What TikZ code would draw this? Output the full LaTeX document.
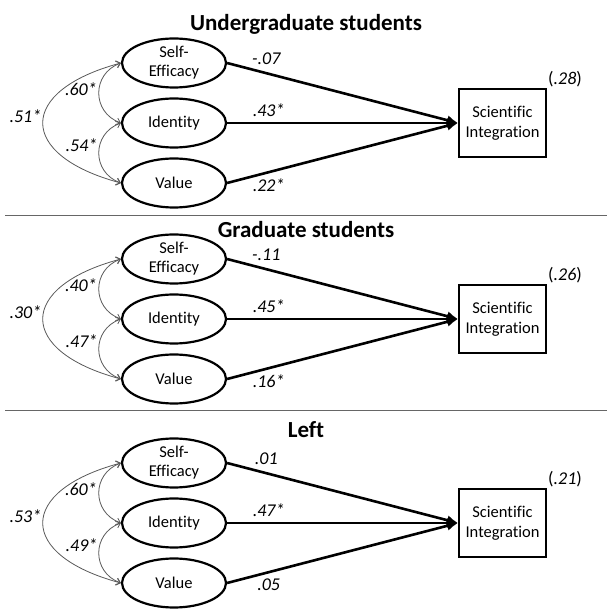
\documentclass[tikz,border=0pt]{standalone}
\usepackage{fontspec}
\setmainfont[Ligatures=NoCommon]{Carlito}
\usetikzlibrary{shapes.geometric}
\usetikzlibrary{positioning}
\usetikzlibrary{arrows.meta}
\tikzset{sem_model/.style={x=1pt,y=1pt,>={Straight Barb[length=4pt,width=7pt]}}}
\tikzset{sem_latent/.style={ellipse, draw, line width=2.2pt, minimum width=104pt, minimum height=49pt, inner sep=0pt, align=center, font=\fontsize{16.5}{19}\selectfont}}
\tikzset{sem_observed/.style={rectangle, draw, line width=2pt, minimum width=87pt, minimum height=68pt, align=center, font=\fontsize{16.5}{20.5}\selectfont}}
\tikzset{sem_path/.style={-{Latex[length=11pt,width=10pt]}, line width=2.6pt}}
\tikzset{sem_corr/.style={<->, draw=black!65, line width=0.8pt}}
\tikzset{sem_coef/.style={font=\fontsize{18}{21}\selectfont\itshape, inner sep=1pt}}
\tikzset{sem_rsq/.style={font=\fontsize{18}{21}\selectfont, inner sep=1pt, anchor=south west}}
\tikzset{sem_title/.style={font=\fontsize{23}{27}\selectfont\bfseries, inner sep=1pt}}
\tikzset{sem_rule/.style={draw=black!60, line width=1.3pt}}

\begin{document}
\begin{tikzpicture}[sem_model]
    \useasboundingbox (0,0) rectangle (614,611);
    %\draw[help lines, step=50] (0,0) grid (614,611);
    \foreach \i/\y/\ty/\ttl/\ra/\rb/\rc/\ba/\bb/\bc/\rsq in {
        1/488/587/Undergraduate students/.60*/.54*/.51*/-.07/.43*/.22*/.28,
        2/292/381/Graduate students/.40*/.47*/.30*/-.11/.45*/.16*/.26,
        3/88/181/Left/.60*/.49*/.53*/.01/.47*/.05/.21}
    {
        \node[sem_title] (title\i) at (306,\ty) {\ttl};
        \node[sem_latent] (se\i) at (174,\y+60) {Self-\\Efficacy};
        \node[sem_latent] (id\i) at (174,\y) {Identity};
        \node[sem_latent] (va\i) at (174,\y-60) {Value};
        \node[sem_observed] (si\i) at (502.5,\y) {Scientific\\Integration};
        \node[sem_rsq] (rsq\i) at (si\i.north east) {(\textit{\rsq})};

        \path
            (se\i.east) edge [sem_path] node [sem_coef, pos=0.17, above=6pt] {\ba} (si\i.west)
            (id\i.east) edge [sem_path] node [sem_coef, pos=0.18, above=4pt] {\bb} (si\i.west)
            (va\i.east) edge [sem_path] node [sem_coef, pos=0.18, below=4pt] {\bc} (si\i.west)
            (se\i.west) edge [sem_corr, out=200, in=160, looseness=1.33] node [sem_coef, left=1pt, pos=0.45] {\ra} (id\i.west)
            (id\i.west) edge [sem_corr, out=200, in=160, looseness=1.33] node [sem_coef, left=1pt, pos=0.4] {\rb} (va\i.west)
            (se\i.west) edge [sem_corr, out=195, in=165, looseness=2.3] node [sem_coef, left=1pt, pos=0.45] {\rc} (va\i.west)
        ;
    }
    \draw[sem_rule] (5,395.5) -- (607,395.5);
    \draw[sem_rule] (5,200.5) -- (607,200.5);
\end{tikzpicture}
\end{document}
